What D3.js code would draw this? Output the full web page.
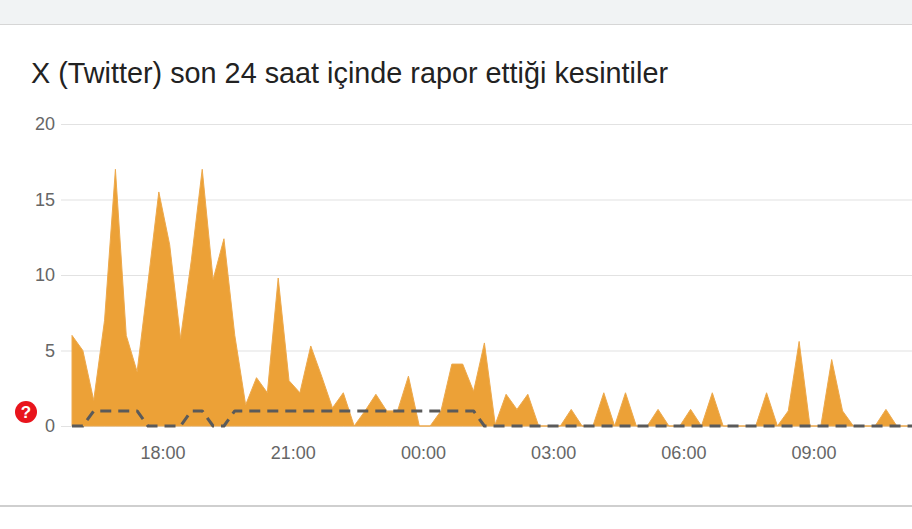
<!DOCTYPE html>
<html>
<head>
<meta charset="utf-8">
<script src="https://cdn.jsdelivr.net/npm/d3@7/dist/d3.min.js"></script>
<style>
html,body{margin:0;padding:0;background:#fff;overflow:hidden}
svg{display:block}
text{font-family:"Liberation Sans",Arial,sans-serif}
</style>
</head>
<body>
<svg id="c" width="912" height="529"></svg>
<script>
const titleText = "X (Twitter) son 24 saat içinde rapor ettiği kesintiler";
const reports = [6,5,1.7,7,17,6,3.6,9.5,15.5,12,5.8,11,17,9.7,12.4,6,1.4,3.2,2.2,9.8,3,2.2,5.3,3.3,1.2,2.2,0,1,2.1,1,1,3.3,0,0,1,4.1,4.1,2.3,5.5,0.1,2.1,1.1,2.1,0,0,0,1.1,0,0,2.2,0,2.2,0,0,1.1,0,0,1.1,0,2.2,0,0,0,0,2.2,0,1,5.6,0,0,4.4,1,0,0,0,1.1,0,0,0];
const baseline = [0,0,1,1,1,1,1,0,0,0,0,1,1,0,0,1,1,1,1,1,1,1,1,1,1,1,1,1,1,1,1,1,1,1,1,1,1,1,0,0,0,0,0,0,0,0,0,0,0,0,0,0,0,0,0,0,0,0,0,0,0,0,0,0,0,0,0,0,0,0,0,0,0,0,0,0,0,0,0];
const yTicks = [0,5,10,15,20];
const xTickHours = [18,21,24,27,30,33];
const xTickLabels = ["18:00","21:00","00:00","03:00","06:00","09:00"];
const startHour = 15.93, stepHours = 0.25, endHour = 35.27;

const at = h => new Date(2024,0,1,0,h*60);
const svg = d3.select("#c");
const x = d3.scaleTime().domain([at(startHour),at(endHour)]).range([72,912]);
const y = d3.scaleLinear().domain([0,20]).range([426,124]);
const timeOf = i => at(startHour+i*stepHours);

svg.append("rect").attr("width",912).attr("height",24).attr("fill","#f1f3f4");
svg.append("rect").attr("y",24).attr("width",912).attr("height",1).attr("fill","#d6d6d6");
svg.append("rect").attr("y",505).attr("width",912).attr("height",2).attr("fill","#cfcfcf");

svg.append("text").attr("x",31).attr("y",83).attr("font-size",28.8).attr("fill","#222")
  .text(titleText);

const gy = svg.append("g").attr("transform","translate(61,0)")
  .call(d3.axisLeft(y).tickValues(yTicks).tickSize(-851).tickPadding(6).tickFormat(d3.format("d")));
gy.select(".domain").remove();
gy.selectAll(".tick line").attr("stroke","#e2e2e2").attr("stroke-width",1.2);
gy.selectAll(".tick text").attr("font-size",18).attr("fill","#666").style("font-family",'"Liberation Sans",Arial,sans-serif');

const gx = svg.append("g").attr("transform","translate(0,426)")
  .call(d3.axisBottom(x).tickValues(xTickHours.map(at)).tickSize(0).tickPadding(20)
    .tickFormat((d,i)=>xTickLabels[i]));
gx.select(".domain").remove();
gx.selectAll(".tick text").attr("font-size",18).attr("fill","#666").style("font-family",'"Liberation Sans",Arial,sans-serif');

svg.append("path").datum(reports)
  .attr("d",d3.area().x((d,i)=>x(timeOf(i))).y0(y(0)).y1(d=>y(d)))
  .attr("fill","#eca137").attr("stroke","#eda94c").attr("stroke-width",1);

svg.append("path").datum(baseline)
  .attr("d",d3.line().x((d,i)=>x(timeOf(i))).y(d=>y(d)))
  .attr("fill","none").attr("stroke","#5a5a5a").attr("stroke-width",3)
  .attr("stroke-dasharray","11,7").attr("stroke-linejoin","round");

const badge = svg.append("g").attr("transform","translate(26,412)");
badge.append("circle").attr("r",11).attr("fill","#e8141c");
badge.append("text").attr("text-anchor","middle").attr("y",6).attr("font-size",17)
  .attr("font-weight","bold").attr("fill","#fff").text("?");
</script>
</body>
</html>
